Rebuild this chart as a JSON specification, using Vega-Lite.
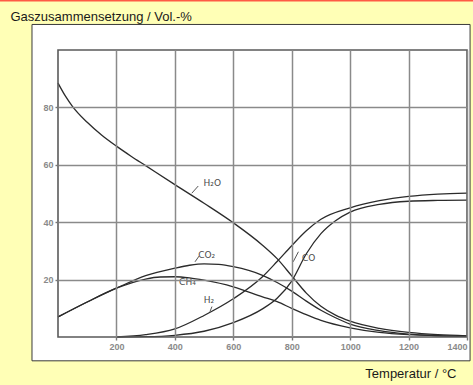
{
  "$schema": "https://vega.github.io/schema/vega-lite/v6.json",
  "width": 409,
  "height": 287,
  "autosize": {"type": "none"},
  "padding": {"left": 58, "top": 50, "right": 6, "bottom": 48},
  "background": "#FFFFB6",
  "config": {
    "view": {"stroke": null, "fill": null},
    "axis": {
      "grid": true,
      "gridColor": "#8a8a8a",
      "gridWidth": 1.5,
      "gridOpacity": 1,
      "domain": false,
      "ticks": true,
      "tickSize": 3,
      "tickColor": "#777",
      "tickWidth": 1.4,
      "labelFont": "Liberation Sans",
      "labelFontSize": 9,
      "labelFontWeight": "bold",
      "labelColor": "#8a8a8a",
      "labelPadding": 2,
      "format": "d",
      "titleFont": "Liberation Sans",
      "titleFontSize": 13,
      "titleFontWeight": "normal",
      "titleColor": "#1a1a1a"
    }
  },
  "datasets": {
    "one": [{"k": 1}],
    "curves": [
      {"gas": "H2O", "T": 0, "v": 88.5}, {"gas": "H2O", "T": 25, "v": 84}, {"gas": "H2O", "T": 50, "v": 80.3}, {"gas": "H2O", "T": 100, "v": 74.8},
      {"gas": "H2O", "T": 150, "v": 70.3}, {"gas": "H2O", "T": 200, "v": 66.5}, {"gas": "H2O", "T": 250, "v": 63}, {"gas": "H2O", "T": 300, "v": 59.7}, {"gas": "H2O", "T": 400, "v": 53.1},
      {"gas": "H2O", "T": 500, "v": 46.6}, {"gas": "H2O", "T": 600, "v": 39.8}, {"gas": "H2O", "T": 700, "v": 32},
      {"gas": "H2O", "T": 750, "v": 27.3}, {"gas": "H2O", "T": 800, "v": 21.3}, {"gas": "H2O", "T": 850, "v": 15.3},
      {"gas": "H2O", "T": 900, "v": 10.7}, {"gas": "H2O", "T": 950, "v": 7.6}, {"gas": "H2O", "T": 1000, "v": 5.5},
      {"gas": "H2O", "T": 1100, "v": 3}, {"gas": "H2O", "T": 1200, "v": 1.6}, {"gas": "H2O", "T": 1300, "v": 0.8},
      {"gas": "H2O", "T": 1400, "v": 0.4},
      {"gas": "CO2", "T": 0, "v": 7}, {"gas": "CO2", "T": 100, "v": 12.2}, {"gas": "CO2", "T": 200, "v": 17},
      {"gas": "CO2", "T": 300, "v": 21.4}, {"gas": "CO2", "T": 400, "v": 24}, {"gas": "CO2", "T": 450, "v": 25},
      {"gas": "CO2", "T": 500, "v": 25.5}, {"gas": "CO2", "T": 550, "v": 25.3}, {"gas": "CO2", "T": 600, "v": 24.5},
      {"gas": "CO2", "T": 700, "v": 21.5}, {"gas": "CO2", "T": 750, "v": 19}, {"gas": "CO2", "T": 800, "v": 16},
      {"gas": "CO2", "T": 850, "v": 12.5}, {"gas": "CO2", "T": 900, "v": 9.3}, {"gas": "CO2", "T": 950, "v": 6.7},
      {"gas": "CO2", "T": 1000, "v": 4.5}, {"gas": "CO2", "T": 1100, "v": 2.2}, {"gas": "CO2", "T": 1200, "v": 1},
      {"gas": "CO2", "T": 1300, "v": 0.5}, {"gas": "CO2", "T": 1400, "v": 0.3},
      {"gas": "CH4", "T": 0, "v": 7}, {"gas": "CH4", "T": 100, "v": 12.2}, {"gas": "CH4", "T": 200, "v": 17},
      {"gas": "CH4", "T": 300, "v": 20.2}, {"gas": "CH4", "T": 350, "v": 20.9}, {"gas": "CH4", "T": 400, "v": 21},
      {"gas": "CH4", "T": 450, "v": 20.6}, {"gas": "CH4", "T": 500, "v": 19.8}, {"gas": "CH4", "T": 600, "v": 17.5},
      {"gas": "CH4", "T": 700, "v": 14}, {"gas": "CH4", "T": 750, "v": 12.3}, {"gas": "CH4", "T": 800, "v": 10},
      {"gas": "CH4", "T": 850, "v": 7.8}, {"gas": "CH4", "T": 900, "v": 5.8}, {"gas": "CH4", "T": 1000, "v": 3.2},
      {"gas": "CH4", "T": 1100, "v": 1.6}, {"gas": "CH4", "T": 1200, "v": 0.8}, {"gas": "CH4", "T": 1300, "v": 0.4},
      {"gas": "CH4", "T": 1400, "v": 0.2},
      {"gas": "H2", "T": 200, "v": 0}, {"gas": "H2", "T": 300, "v": 0.8}, {"gas": "H2", "T": 400, "v": 2.8},
      {"gas": "H2", "T": 500, "v": 7.5}, {"gas": "H2", "T": 600, "v": 13.3}, {"gas": "H2", "T": 700, "v": 21},
      {"gas": "H2", "T": 750, "v": 26.3}, {"gas": "H2", "T": 800, "v": 31.8}, {"gas": "H2", "T": 850, "v": 37},
      {"gas": "H2", "T": 900, "v": 41}, {"gas": "H2", "T": 1000, "v": 45}, {"gas": "H2", "T": 1100, "v": 47.5},
      {"gas": "H2", "T": 1200, "v": 49}, {"gas": "H2", "T": 1300, "v": 49.8}, {"gas": "H2", "T": 1400, "v": 50.1},
      {"gas": "CO", "T": 200, "v": 0}, {"gas": "CO", "T": 300, "v": 0.1}, {"gas": "CO", "T": 400, "v": 0.6},
      {"gas": "CO", "T": 500, "v": 2}, {"gas": "CO", "T": 600, "v": 5}, {"gas": "CO", "T": 700, "v": 9.8},
      {"gas": "CO", "T": 750, "v": 13.5}, {"gas": "CO", "T": 800, "v": 19.5}, {"gas": "CO", "T": 850, "v": 29},
      {"gas": "CO", "T": 900, "v": 36}, {"gas": "CO", "T": 950, "v": 40.5}, {"gas": "CO", "T": 1000, "v": 43.5},
      {"gas": "CO", "T": 1100, "v": 46.2}, {"gas": "CO", "T": 1200, "v": 47.3}, {"gas": "CO", "T": 1300, "v": 47.6},
      {"gas": "CO", "T": 1400, "v": 47.7}
    ],
    "labels": [
      {"text": "H₂O", "T": 528, "v": 53.7},
      {"text": "CO₂", "T": 509, "v": 28.6},
      {"text": "CH₄", "T": 443, "v": 19.3},
      {"text": "H₂", "T": 517, "v": 13.0},
      {"text": "CO", "T": 858, "v": 27.5}
    ],
    "leaders": [
      {"T": 458, "v": 50.1, "T2": 480, "v2": 52.6},
      {"T": 469, "v": 26.2, "T2": 483, "v2": 28.2},
      {"T": 520, "v": 8.8, "T2": 527, "v2": 10.6},
      {"T": 805, "v": 26.2, "T2": 823, "v2": 29.7}
    ]
  },
  "layer": [
    {
      "data": {"name": "one"},
      "mark": {"type": "rect", "fill": "white", "stroke": "#3a3a3a", "strokeWidth": 1},
      "encoding": {
        "x": {"datum": -89, "type": "quantitative", "scale": {"domain": [0, 1400], "nice": false, "zero": false}},
        "x2": {"datum": 1410.5},
        "y": {"datum": -8.3, "type": "quantitative", "scale": {"domain": [0, 100], "nice": false, "zero": false}},
        "y2": {"datum": 108.9}
      }
    },
    {
      "data": {"name": "one"},
      "mark": {"type": "rule", "stroke": "#FF5A44", "strokeWidth": 1.6},
      "encoding": {
        "x": {"datum": -300, "type": "quantitative", "scale": {"domain": [0, 1400], "nice": false, "zero": false}},
        "x2": {"datum": 1700},
        "y": {"datum": 117.2, "type": "quantitative", "scale": {"domain": [0, 100], "nice": false, "zero": false}}
      }
    },
    {
      "data": {"name": "curves"},
      "mark": {"type": "line", "interpolate": "monotone", "stroke": "#2b2b2b", "strokeWidth": 1.3},
      "encoding": {
        "x": {"field": "T", "type": "quantitative",
          "scale": {"domain": [0, 1400], "nice": false, "zero": false},
          "axis": {"zindex": 1, "values": [200, 400, 600, 800, 1000, 1200, 1400], "labelFlush": true,
            "title": "Temperatur / °C", "titleAngle": 0, "titleAlign": "right", "titleBaseline": "alphabetic",
            "titleX": 398, "titleY": 40}},
        "y": {"field": "v", "type": "quantitative",
          "scale": {"domain": [0, 100], "nice": false, "zero": false},
          "axis": {"zindex": 1, "values": [20, 40, 60, 80],
            "title": "Gaszusammensetzung / Vol.-%", "titleAngle": 0, "titleAlign": "left", "titleBaseline": "alphabetic",
            "titleX": -48, "titleY": -30}},
        "detail": {"field": "gas"}
      }
    },
    {
      "data": {"name": "leaders"},
      "mark": {"type": "rule", "stroke": "#555", "strokeWidth": 1},
      "encoding": {
        "x": {"field": "T", "type": "quantitative", "scale": {"domain": [0, 1400], "nice": false, "zero": false}},
        "x2": {"field": "T2"},
        "y": {"field": "v", "type": "quantitative", "scale": {"domain": [0, 100], "nice": false, "zero": false}},
        "y2": {"field": "v2"}
      }
    },
    {
      "data": {"name": "labels"},
      "mark": {"type": "text", "font": "DejaVu Sans", "fontSize": 9, "fill": "#4a4a4a"},
      "encoding": {
        "x": {"field": "T", "type": "quantitative", "scale": {"domain": [0, 1400], "nice": false, "zero": false}},
        "y": {"field": "v", "type": "quantitative", "scale": {"domain": [0, 100], "nice": false, "zero": false}},
        "text": {"field": "text"}
      }
    },
    {
      "data": {"name": "one"},
      "mark": {"type": "rect", "fill": null, "stroke": "#5a5a5a", "strokeWidth": 1.6},
      "encoding": {
        "x": {"datum": 0, "type": "quantitative", "scale": {"domain": [0, 1400], "nice": false, "zero": false}},
        "x2": {"datum": 1400},
        "y": {"datum": 0, "type": "quantitative", "scale": {"domain": [0, 100], "nice": false, "zero": false}},
        "y2": {"datum": 100}
      }
    }
  ]
}
